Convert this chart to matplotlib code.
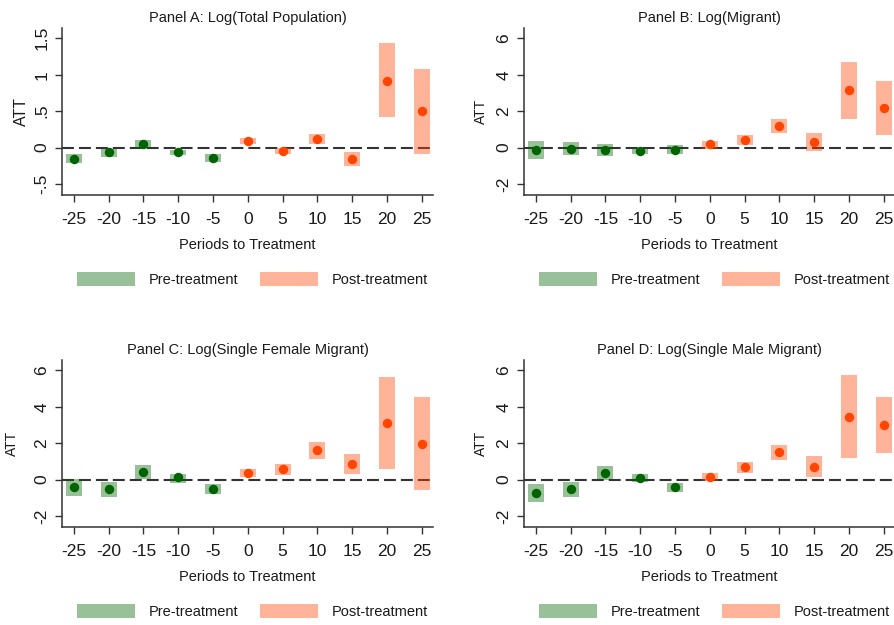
import matplotlib
matplotlib.use("Agg")
import matplotlib.pyplot as plt
from matplotlib.patches import Patch

plt.rcParams["font.family"] = ["Liberation Sans", "DejaVu Sans"]
plt.rcParams["lines.scale_dashes"] = False

# Event-time periods
periods = [-25, -20, -15, -10, -5, 0, 5, 10, 15, 20, 25]

# Panel A: Log(Total Population)
a_att = [-0.15, -0.064, 0.05, -0.064, -0.14, 0.09, -0.04, 0.12, -0.15, 0.92, 0.50]
a_lo = [-0.216, -0.124, -0.01, -0.105, -0.20, 0.05, -0.09, 0.05, -0.25, 0.42, -0.09]
a_hi = [-0.087, -0.018, 0.10, -0.03, -0.09, 0.13, 0.0, 0.18, -0.055, 1.43, 1.08]

# Panel B: Log(Migrant)
b_att = [-0.15, -0.05, -0.15, -0.20, -0.11, 0.18, 0.42, 1.19, 0.33, 3.16, 2.17]
b_lo = [-0.62, -0.42, -0.46, -0.35, -0.35, -0.06, 0.15, 0.83, -0.17, 1.60, 0.70]
b_hi = [0.35, 0.29, 0.18, -0.02, 0.13, 0.39, 0.68, 1.56, 0.79, 4.72, 3.67]

# Panel C: Log(Single Female Migrant)
c_att = [-0.39, -0.51, 0.44, 0.13, -0.50, 0.37, 0.57, 1.63, 0.86, 3.12, 1.98]
c_lo = [-0.88, -0.94, 0.04, -0.17, -0.77, 0.13, 0.26, 1.16, 0.31, 0.59, -0.59]
c_hi = [0.06, -0.13, 0.81, 0.33, -0.24, 0.61, 0.86, 2.07, 1.41, 5.65, 4.55]

# Panel D: Log(Single Male Migrant)
d_att = [-0.73, -0.53, 0.39, 0.09, -0.40, 0.15, 0.68, 1.50, 0.72, 3.45, 2.99]
d_lo = [-1.23, -0.94, 0.0, -0.13, -0.68, -0.09, 0.35, 1.06, 0.17, 1.21, 1.45]
d_hi = [-0.26, -0.13, 0.77, 0.31, -0.17, 0.37, 0.97, 1.93, 1.28, 5.72, 4.55]

titles = ["Panel A: Log(Total Population)", "Panel B: Log(Migrant)",
          "Panel C: Log(Single Female Migrant)", "Panel D: Log(Single Male Migrant)"]
legend_labels = ["Pre-treatment", "Post-treatment"]

yticks_a = [-0.5, 0, 0.5, 1, 1.5]
yticklabels_a = ["-.5", "0", ".5", "1", "1.5"]
yticks_other = [-2, 0, 2, 4, 6]
yticklabels_other = ["-2", "0", "2", "4", "6"]

PRE_COLOR = "#006400"
POST_COLOR = "#ff4500"
TEXT = "#1a1a1a"
AXC = "#333333"

W, H = 895, 625
fig = plt.figure(figsize=(W / 100, H / 100), dpi=100)


def px_axes(left, top, right, bottom):
    return fig.add_axes([left / W, 1 - bottom / H, (right - left) / W, (bottom - top) / H])


panels = [
    (px_axes(62, 28, 433, 195), a_att, a_lo, a_hi, yticks_a, yticklabels_a, (-0.65, 1.64), 11.5, 21),
    (px_axes(524, 28, 895, 195), b_att, b_lo, b_hi, yticks_other, yticklabels_other, (-2.6, 6.57), 10, 481),
    (px_axes(62, 360, 433, 527), c_att, c_lo, c_hi, yticks_other, yticklabels_other, (-2.6, 6.57), 10, 12),
    (px_axes(524, 360, 895, 527), d_att, d_lo, d_hi, yticks_other, yticklabels_other, (-2.6, 6.57), 10, 481),
]

for (ax, att, lo, hi, yt, ytl, ylim, ylab_fs, ylab_x), title in zip(panels, titles):
    ax.axhline(0, color=AXC, lw=1.5, linestyle=(0, (8.6, 3.6)), zorder=1)
    for p, v, l, h in zip(periods, att, lo, hi):
        col = PRE_COLOR if p < 0 else POST_COLOR
        ax.bar(p, h - l, bottom=l, width=2.3, color=col, alpha=0.4, lw=0, zorder=2)
        ax.plot(p, v, "o", color=col, ms=6.8, mec="none", zorder=3)

    ax.set_xlim(-26.7, 26.6)
    ax.set_ylim(*ylim)
    ax.set_xticks(periods)
    ax.set_xticklabels([str(p) for p in periods])
    ax.set_yticks(yt)
    ax.set_yticklabels(ytl, rotation=90, va="center")
    ax.tick_params(axis="both", direction="out", length=5, width=1, color=AXC,
                   labelsize=12.5, labelcolor=TEXT)
    ax.tick_params(axis="x", pad=7)
    ax.tick_params(axis="y", pad=4)
    for s in ["top", "right"]:
        ax.spines[s].set_visible(False)
    for s in ["left", "bottom"]:
        ax.spines[s].set_color(AXC)
        ax.spines[s].set_linewidth(1.1)

    ax.set_title(title, fontsize=10.5, color=TEXT, pad=4)
    ax.set_xlabel("Periods to Treatment", fontsize=10.5, color=TEXT, labelpad=8)
    ax.set_ylabel("ATT", fontsize=ylab_fs, color=TEXT, va="center")
    bb = ax.get_position()
    ax.yaxis.set_label_coords((ylab_x / W - bb.x0) / bb.width, 0.5)

    handles = [Patch(facecolor=PRE_COLOR, alpha=0.4, lw=0),
               Patch(facecolor=POST_COLOR, alpha=0.4, lw=0)]
    ax.legend(handles, legend_labels, loc="center", bbox_to_anchor=(0.513, -0.506),
              ncol=2, frameon=False, fontsize=10.5, handlelength=4.0, handleheight=1.05,
              handletextpad=0.9, columnspacing=1.5, labelcolor=TEXT)

fig.savefig("out.png", dpi=100, facecolor="white")
